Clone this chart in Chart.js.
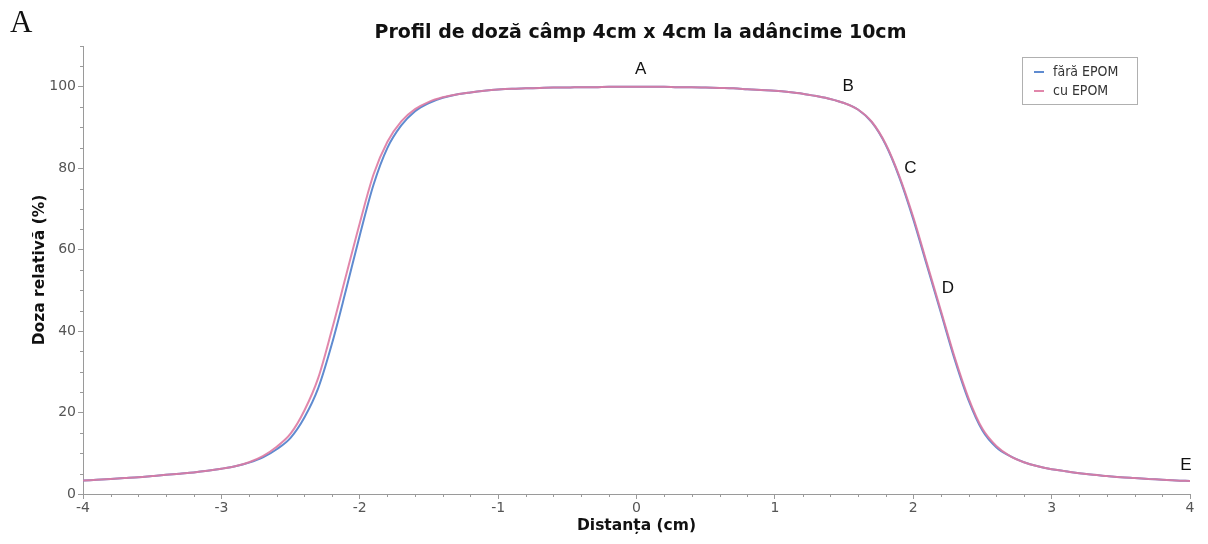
<!DOCTYPE html>
<html>
<head>
<meta charset="utf-8">
<script src="https://cdn.jsdelivr.net/npm/chart.js@4.4.1/dist/chart.umd.min.js"></script>
<style>
  html, body { margin: 0; padding: 0; background: #fff; }
  #wrap { position: relative; width: 1208px; height: 544px; }
</style>
</head>
<body>
<div id="wrap"><canvas id="c" width="1208" height="544"></canvas></div>
<script>
// Distance across the field (cm)
const distances = [
  -4.0, -3.9, -3.8, -3.7, -3.6, -3.5, -3.4, -3.3, -3.2, -3.1,
  -3.0, -2.9, -2.8, -2.7, -2.6, -2.5, -2.4, -2.3, -2.2, -2.1,
  -2.0, -1.9, -1.8, -1.7, -1.6, -1.5, -1.4, -1.3, -1.2, -1.1,
  -1.0, -0.9, -0.8, -0.7, -0.6, -0.5, -0.4, -0.3, -0.2, -0.1,
   0.0,  0.1,  0.2,  0.3,  0.4,  0.5,  0.6,  0.7,  0.8,  0.9,
   1.0,  1.1,  1.2,  1.3,  1.4,  1.5,  1.6,  1.7,  1.8,  1.9,
   2.0,  2.1,  2.2,  2.3,  2.4,  2.5,  2.6,  2.7,  2.8,  2.9,
   3.0,  3.1,  3.2,  3.3,  3.4,  3.5,  3.6,  3.7,  3.8,  3.9,
   4.0
];

// Relative dose (%) without EPOM correction
const faraEpom = [
   3.3,  3.5,  3.7,  3.9,  4.1,  4.4,  4.7,  5.0,  5.3,  5.7,
   6.2,  6.8,  7.7,  9.0, 11.0, 13.8, 18.8, 26.0, 37.0, 50.0,
  63.5, 76.0, 85.0, 90.5, 94.0, 96.0, 97.3, 98.1, 98.6, 99.0,
  99.3, 99.5, 99.6, 99.7, 99.8, 99.8, 99.9, 99.9, 100.0, 100.0,
 100.0, 100.0, 100.0, 99.9, 99.9, 99.8, 99.7, 99.6, 99.4, 99.2,
  99.0, 98.7, 98.3, 97.7, 97.0, 96.0, 94.4, 91.3, 85.8, 77.7,
  67.5, 56.0, 44.5, 33.0, 23.0, 15.6, 11.5,  9.3,  7.8,  6.8,
   6.1,  5.6,  5.1,  4.7,  4.4,  4.1,  3.9,  3.7,  3.5,  3.3,
   3.2
];

// Relative dose (%) with EPOM correction
const cuEpom = [
   3.3,  3.5,  3.7,  3.9,  4.1,  4.4,  4.7,  5.0,  5.3,  5.7,
   6.2,  6.8,  7.8,  9.3, 11.6, 14.8, 20.5, 28.5, 40.5, 53.5,
  66.5, 78.5, 86.5, 91.5, 94.5, 96.3, 97.4, 98.1, 98.6, 99.0,
  99.3, 99.5, 99.6, 99.7, 99.8, 99.8, 99.9, 99.9, 100.0, 100.0,
 100.0, 100.0, 100.0, 99.9, 99.9, 99.8, 99.7, 99.6, 99.4, 99.2,
  99.0, 98.7, 98.3, 97.7, 97.0, 96.0, 94.4, 91.4, 86.0, 78.0,
  68.0, 56.5, 45.0, 33.5, 23.5, 16.0, 11.8,  9.3,  7.8,  6.8,
   6.1,  5.6,  5.1,  4.7,  4.4,  4.1,  3.9,  3.7,  3.5,  3.3,
   3.2
];

const seriesNames = ['fără EPOM', 'cu EPOM'];
const chartTitle = 'Profil de doză câmp 4cm x 4cm la adâncime 10cm';
const panelLabel = 'A';

// Point markers A–E placed in data coordinates (cm, %)
const markerLetters = ['A', 'B', 'C', 'D', 'E'];
const markerX = [0.03, 1.53, 1.98, 2.25, 3.97];
const markerY = [104.2, 100.2, 79.9, 50.6, 7.1];

const BLUE = '#5f8bd0';
const PINK = 'rgba(222,122,162,0.9)';
const AXIS = '#9a9a9a';
const TICK_TEXT = '#555';
const FONT = '"DejaVu Sans", Verdana, sans-serif';

const toPoints = (ys) => distances.map((x, i) => ({ x: x, y: ys[i] }));

// Minor tick marks on both axes
const minorTicks = {
  id: 'minorTicks',
  afterDraw(chart) {
    const ctx = chart.ctx;
    const xs = chart.scales.x, ys = chart.scales.y;
    ctx.save();
    ctx.strokeStyle = AXIS;
    ctx.lineWidth = 1;
    ctx.beginPath();
    for (let v = -40; v <= 40; v += 2) {
      if (v % 10 === 0) continue;
      const px = Math.round(xs.getPixelForValue(v / 10)) + 0.5;
      ctx.moveTo(px, ys.bottom);
      ctx.lineTo(px, ys.bottom + 3);
    }
    for (let v = 5; v <= 110; v += 5) {
      if (v % 20 === 0) continue;
      const py = Math.round(ys.getPixelForValue(v)) + 0.5;
      ctx.moveTo(xs.left - 3, py);
      ctx.lineTo(xs.left, py);
    }
    ctx.stroke();
    ctx.restore();
  }
};

// Title, panel letter, bordered legend and point letters
const decorations = {
  id: 'decorations',
  afterDraw(chart) {
    const ctx = chart.ctx;
    const area = chart.chartArea;
    const xs = chart.scales.x, ys = chart.scales.y;
    ctx.save();

    // panel letter
    ctx.fillStyle = '#111';
    ctx.font = '31px "Liberation Serif"';
    ctx.textAlign = 'left';
    ctx.textBaseline = 'alphabetic';
    ctx.fillText(panelLabel, 10, 32);

    // title
    ctx.font = 'bold 19px ' + FONT;
    ctx.textAlign = 'center';
    ctx.textBaseline = 'middle';
    ctx.fillStyle = '#111';
    ctx.fillText(chartTitle, (area.left + area.right) / 2 + 4, 33);

    // legend
    const lx = area.right - 168, ly = area.top + 11, lw = 115, lh = 47;
    ctx.fillStyle = '#fff';
    ctx.fillRect(lx, ly, lw, lh);
    ctx.strokeStyle = '#b0b0b0';
    ctx.lineWidth = 1;
    ctx.strokeRect(lx + 0.5, ly + 0.5, lw, lh);
    ctx.font = '14px "DejaVu Sans Condensed", "DejaVu Sans"';
    ctx.textAlign = 'left';
    chart.data.datasets.forEach((ds, i) => {
      const cy = ly + 15 + i * 19;
      ctx.strokeStyle = ds.borderColor;
      ctx.lineWidth = 2;
      ctx.beginPath();
      ctx.moveTo(lx + 12, cy);
      ctx.lineTo(lx + 22, cy);
      ctx.stroke();
      ctx.fillStyle = '#333';
      ctx.fillText(ds.label, lx + 31, cy);
    });

    // point letters
    ctx.font = '17px "Liberation Sans", Arial';
    ctx.fillStyle = '#111';
    ctx.textAlign = 'center';
    ctx.textBaseline = 'middle';
    markerLetters.forEach((t, i) => {
      ctx.fillText(t, xs.getPixelForValue(markerX[i]), ys.getPixelForValue(markerY[i]));
    });
    ctx.restore();
  }
};

new Chart(document.getElementById('c'), {
  type: 'line',
  data: {
    datasets: [
      { label: seriesNames[0], data: toPoints(faraEpom), borderColor: BLUE, borderWidth: 2,
        pointRadius: 0, cubicInterpolationMode: 'monotone', order: 1 },
      { label: seriesNames[1], data: toPoints(cuEpom), borderColor: PINK, borderWidth: 2,
        pointRadius: 0, cubicInterpolationMode: 'monotone', order: 0 }
    ]
  },
  options: {
    responsive: false,
    animation: false,
    layout: { padding: { top: 46, right: 18, left: 0, bottom: 0 } },
    plugins: {
      legend: { display: false },
      title: { display: false },
      tooltip: { enabled: false }
    },
    scales: {
      x: {
        type: 'linear',
        min: -4, max: 4,
        afterFit(s) { s.height = 50; },
        border: { color: AXIS, width: 1 },
        grid: { drawOnChartArea: false, drawTicks: true, tickLength: 5, color: AXIS },
        ticks: { stepSize: 1, padding: 1, color: TICK_TEXT, maxRotation: 0,
                 font: { family: FONT, size: 14 } },
        title: { display: true, text: 'Distanța (cm)', color: '#111', padding: { top: 0, bottom: 9 },
                 font: { family: FONT, size: 15.5, weight: 'bold' } }
      },
      y: {
        min: 0, max: 110,
        afterFit(s) { s.width = 83; },
        border: { color: AXIS, width: 1 },
        grid: { drawOnChartArea: false, drawTicks: true, tickLength: 5, color: AXIS },
        ticks: { stepSize: 20, includeBounds: false, padding: 2, color: TICK_TEXT,
                 font: { family: FONT, size: 14 } },
        title: { display: true, text: 'Doza relativă (%)', color: '#111', padding: { top: 31, bottom: 0 },
                 font: { family: FONT, size: 15.5, weight: 'bold' } }
      }
    }
  },
  plugins: [minorTicks, decorations]
});
</script>
</body>
</html>
